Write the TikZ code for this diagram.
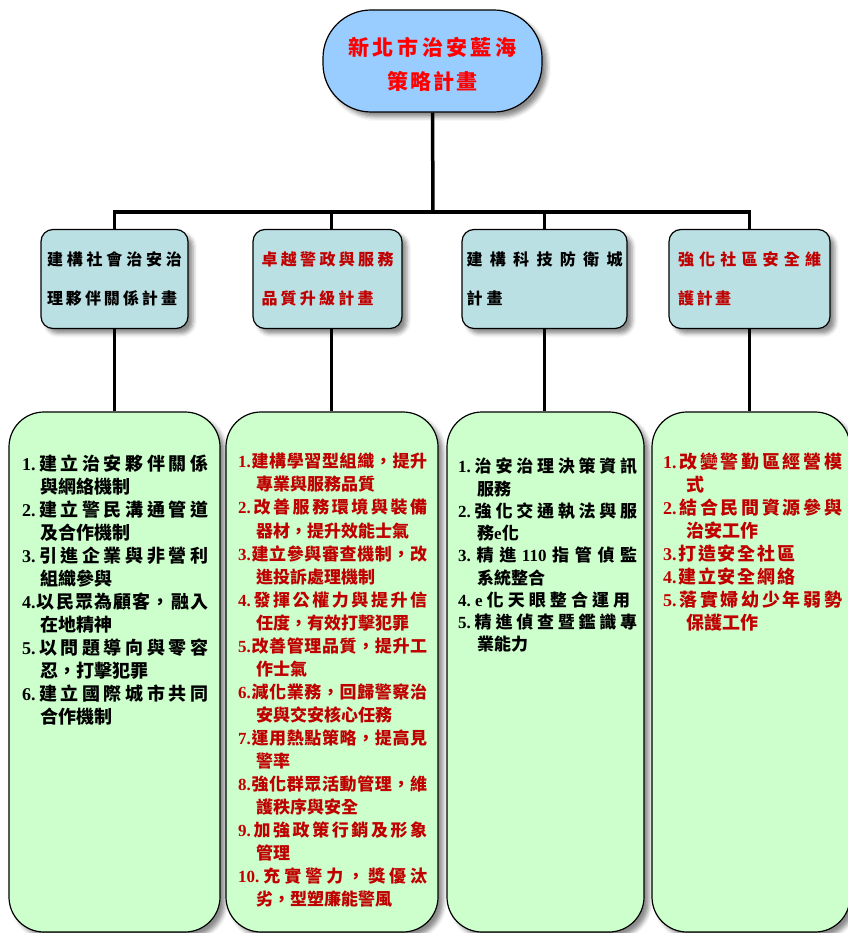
\documentclass[tikz,border=0pt]{standalone}
\usepackage{fontspec}
\setmainfont{Liberation Serif}
\newfontfamily\cjk{Noto Sans CJK TC}
\newfontfamily\nmf{Liberation Serif}
\usetikzlibrary{shadows.blur}
\definecolor{topfill}{HTML}{99CCFF}
\definecolor{midfill}{HTML}{BBE0E3}
\definecolor{botfill}{HTML}{CCFFCC}
\definecolor{dred}{HTML}{C00000}
\definecolor{bred}{HTML}{FF0000}
\makeatletter
\def\spEnd{\relax}
\def\sprA#1{{#1}\sprB}
\def\sprB#1{\def\sp@tmp{#1}\ifx\sp@tmp\spEnd\else\hfil{#1}\expandafter\sprB\fi}
\makeatother
\newcommand\fl[2]{\makebox[#1][s]{\sprA#2\relax}}
\newcommand\nm{\nmf\bfseries}
\tikzset{
  conn/.style={line width=3.5pt},
  shad/.style={blur shadow={shadow xshift=5pt, shadow yshift=-5pt, shadow blur radius=4pt, shadow opacity=45}},
  topbox/.style={draw, line width=1.2pt, fill=topfill, rounded corners=48pt, minimum width=219pt, minimum height=102pt, inner sep=0pt, shad},
  toptext/.style={inner sep=0pt, align=center, text=bred, font=\cjk\bfseries\fontsize{21}{34}\selectfont},
  midbox/.style={draw, line width=1.2pt, fill=midfill, rounded corners=12pt, minimum height=99pt, inner sep=0pt, align=left, shad, font=\cjk\bfseries\fontsize{16}{39}\selectfont},
  botbox/.style={draw, line width=1.2pt, fill=botfill, rounded corners=35pt, minimum height=520pt, inner sep=0pt, shad},
  listtext/.style={anchor=north west, inner sep=0pt, align=left},
}
\begin{document}
\begin{tikzpicture}[x=1pt,y=-1pt]
\useasboundingbox (0,0) rectangle (847,933);
\coordinate (j) at (433,212);
% top
\node[topbox] (top) at (432.5,61) {};
\node[toptext] (toptxt) at (432.5,64) {\fl{168pt}{新北市治安藍海}\\\fl{90pt}{策略計畫}};
% level 2
\node[midbox, minimum width=147pt] (l2a) at (114.5,279) {\fl{135pt}{建構社會治安治}\\\fl{130pt}{理夥伴關係計畫}};
\node[midbox, minimum width=149pt, text=dred] (l2b) at (327.5,279) {\fl{132pt}{卓越警政與服務}\\\fl{112pt}{品質升級計畫}};
\node[midbox, minimum width=165pt] (l2c) at (544.5,279) {\fl{156pt}{建構科技防衛城}\\\fl{36pt}{計畫}};
\node[midbox, minimum width=161pt, text=dred] (l2d) at (749.5,279) {\fl{143pt}{強化社區安全維}\\\fl{53pt}{護計畫}};
% level 3
\node[botbox, minimum width=211pt] (l3a) at (114.5,672) {};
\node[botbox, minimum width=212pt] (l3b) at (332,672) {};
\node[botbox, minimum width=197pt] (l3c) at (545.5,672) {};
\node[botbox, minimum width=198pt] (l3d) at (751,672) {};
% connectors
\draw[conn] (top.south) -- (j);
\draw[conn] (l2a.north) |- (j);
\draw[conn] ([xshift=4pt]l2b.north) |- (j);
\draw[conn] (l2c.north) |- (j);
\draw[conn] (l2d.north) |- (j);
\draw[conn] (l2a.south) -- (l2a.south |- l3a.north);
\draw[conn] ([xshift=4pt]l2b.south) -- ([xshift=4pt]l2b.south |- l3b.north);
\draw[conn] (l2c.south) -- (l2c.south |- l3c.north);
\draw[conn] (l2d.south) -- (l2d.south |- l3d.north);
% list texts
\node[listtext, font=\cjk\bfseries\fontsize{18}{23}\selectfont] (t3a) at (22,455) {%
\fl{186pt}{{\nm 1.}建立治安夥伴關係}\\\hspace*{18pt}與網絡機制\\
\fl{186pt}{{\nm 2.}建立警民溝通管道}\\\hspace*{18pt}及合作機制\\
\fl{186pt}{{\nm 3.}引進企業與非營利}\\\hspace*{18pt}組織參與\\
\fl{186pt}{{\nm 4.}以民眾為顧客，融入}\\\hspace*{18pt}在地精神\\
\fl{186pt}{{\nm 5.}以問題導向與零容}\\\hspace*{18pt}忍，打擊犯罪\\
\fl{186pt}{{\nm 6.}建立國際城市共同}\\\hspace*{18pt}合作機制};
\node[listtext, text=dred, font=\cjk\bfseries\fontsize{17}{23.05}\selectfont] (t3b) at (238,453) {%
\fl{189pt}{{\nm 1.}建構學習型組織，提升}\\\hspace*{18pt}專業與服務品質\\
\fl{189pt}{{\nm 2.}改善服務環境與裝備}\\\hspace*{18pt}器材，提升效能士氣\\
\fl{189pt}{{\nm 3.}建立參與審查機制，改}\\\hspace*{18pt}進投訴處理機制\\
\fl{189pt}{{\nm 4.}發揮公權力與提升信}\\\hspace*{18pt}任度，有效打擊犯罪\\
\fl{189pt}{{\nm 5.}改善管理品質，提升工}\\\hspace*{18pt}作士氣\\
\fl{189pt}{{\nm 6.}減化業務，回歸警察治}\\\hspace*{18pt}安與交安核心任務\\
\fl{189pt}{{\nm 7.}運用熱點策略，提高見}\\\hspace*{18pt}警率\\
\fl{189pt}{{\nm 8.}強化群眾活動管理，維}\\\hspace*{18pt}護秩序與安全\\
\fl{189pt}{{\nm 9.}加強政策行銷及形象}\\\hspace*{18pt}管理\\
\fl{189pt}{{\nm 10.}充實警力，獎優汰}\\\hspace*{18pt}劣，型塑廉能警風};
\node[listtext, font=\cjk\bfseries\fontsize{17}{22.25}\selectfont] (t3c) at (458,458) {%
\fl{179pt}{{\nm 1.}治安治理決策資訊}\\\hspace*{19pt}服務\\
\fl{179pt}{{\nm 2.}強化交通執法與服}\\\hspace*{19pt}務{\nm e}化\\
\fl{179pt}{{\nm 3.}精進{\nm 110}指管偵監}\\\hspace*{19pt}系統整合\\
\fl{172pt}{{\nm 4.}{\nm e}化天眼整合運用}\\
\fl{179pt}{{\nm 5.}精進偵查暨鑑識專}\\\hspace*{19pt}業能力};
\node[listtext, text=dred, font=\cjk\bfseries\fontsize{18}{22.9}\selectfont] (t3d) at (663,453) {%
\fl{179pt}{{\nm 1.}改變警勤區經營模}\\\hspace*{23pt}式\\
\fl{179pt}{{\nm 2.}結合民間資源參與}\\\hspace*{23pt}治安工作\\
\fl{132pt}{{\nm 3.}打造安全社區}\\
\fl{132pt}{{\nm 4.}建立安全網絡}\\
\fl{179pt}{{\nm 5.}落實婦幼少年弱勢}\\\hspace*{23pt}保護工作};
\end{tikzpicture}
\end{document}
